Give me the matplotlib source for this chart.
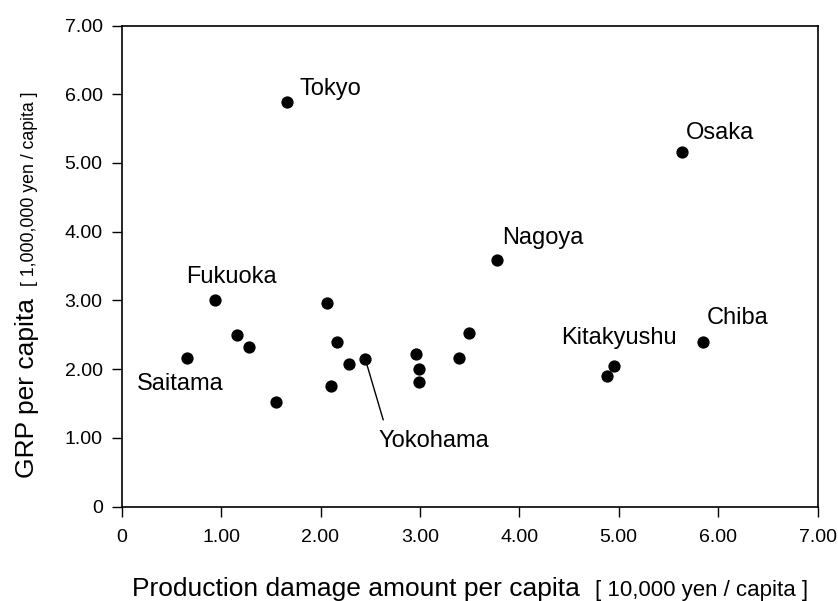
import matplotlib
matplotlib.use("Agg")
import matplotlib.pyplot as plt
from matplotlib.ticker import FixedLocator, FuncFormatter

plt.rcParams['font.family'] = ['Liberation Sans', 'DejaVu Sans']

# Data: production damage per capita [10,000 yen] vs GRP per capita [1,000,000 yen]
damage = [1.66, 5.64, 3.78, 5.85, 4.95, 4.88, 0.94, 0.66, 1.16, 1.28, 1.55,
          2.07, 2.17, 2.29, 2.45, 2.11, 2.96, 2.99, 2.99, 3.39, 3.49]
grp = [5.88, 5.16, 3.59, 2.40, 2.04, 1.90, 3.00, 2.16, 2.50, 2.33, 1.52,
       2.97, 2.40, 2.07, 2.15, 1.76, 2.22, 2.00, 1.81, 2.17, 2.52]

# labelled cities: (name, index of point, text offset in pixels)
labels = [("Tokyo", 0, (13, 7)),
          ("Osaka", 1, (4, 13)),
          ("Nagoya", 2, (5, 16)),
          ("Chiba", 3, (4, 18)),
          ("Kitakyushu", 4, (-53, 22)),
          ("Fukuoka", 6, (-29, 17)),
          ("Saitama", 7, (-50, -32)),
          ("Yokohama", 14, (13, -88))]

ticks = [0, 1, 2, 3, 4, 5, 6, 7]

W, H = 838, 601
fig = plt.figure(figsize=(W / 100, H / 100), dpi=100)
ax = fig.add_axes([121.7 / W, 1 - 506.7 / H, (817.5 - 121.7) / W, (506.7 - 25.5) / H])

ax.scatter(damage, grp, s=78, color='black', zorder=3, linewidths=0)

for name, i, (dx, dy) in labels:
    ax.annotate(name, xy=(damage[i], grp[i]), xytext=(dx, dy),
                textcoords='offset pixels', ha='left', va='baseline',
                fontsize=17, color='black')

# leader line for Yokohama
yi = 14
ax.annotate('', xy=(damage[yi], grp[yi]), xytext=(18, -61),
            textcoords='offset pixels',
            arrowprops=dict(arrowstyle='-', color='black', lw=1,
                            shrinkA=0, shrinkB=0))

ax.set_xlim(0, 7)
ax.set_ylim(0, 7)
ax.xaxis.set_major_locator(FixedLocator(ticks))
ax.yaxis.set_major_locator(FixedLocator(ticks))
fmt = FuncFormatter(lambda v, p: "0" if v == 0 else f"{v:.2f}")
ax.xaxis.set_major_formatter(fmt)
ax.yaxis.set_major_formatter(fmt)
ax.tick_params(axis='both', direction='out', length=7.2, width=1, labelsize=14, colors='black')
ax.tick_params(axis='x', pad=8.5)
ax.tick_params(axis='y', pad=6.5)
for sp in ax.spines.values():
    sp.set_linewidth(1.2)
    sp.set_color('black')

def px(x, y):
    return x / W, 1 - y / H

fig.text(*px(131.7, 596), "Production damage amount per capita", fontsize=19,
         ha='left', va='baseline')
fig.text(*px(595, 596), "[ 10,000 yen / capita ]", fontsize=16,
         ha='left', va='baseline')
fig.text(*px(34, 478), "GRP per capita", fontsize=19, rotation=90,
         rotation_mode='anchor', ha='left', va='baseline')
fig.text(*px(34, 286), "[ 1,000,000 yen / capita ]", fontsize=12.8, rotation=90,
         rotation_mode='anchor', ha='left', va='baseline')

fig.savefig("out.png", dpi=100, facecolor='white')
